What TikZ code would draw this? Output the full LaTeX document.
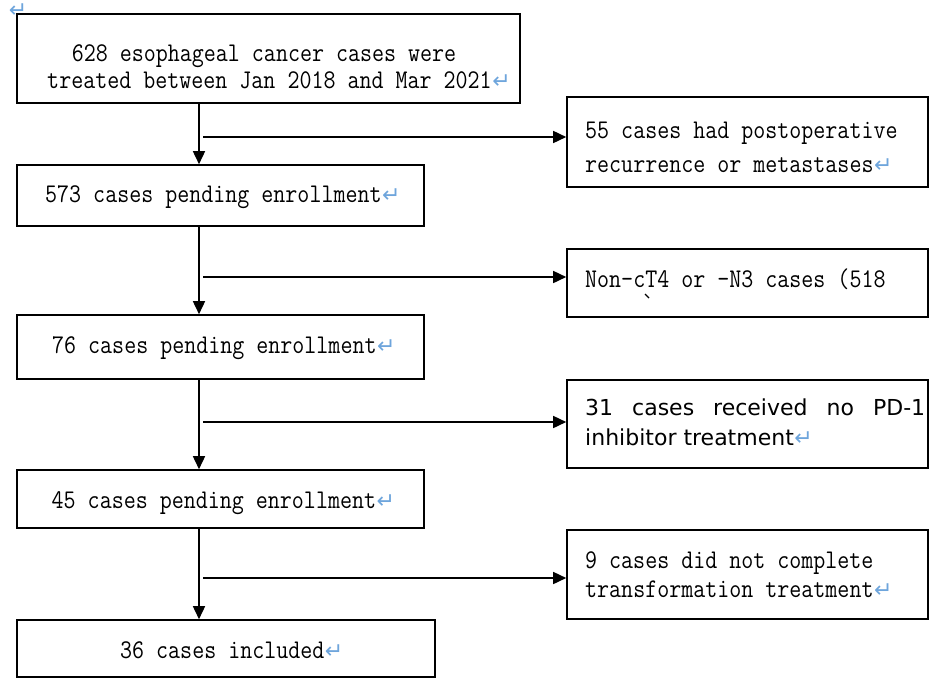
\documentclass[tikz,border=0pt]{standalone}
\usepackage{fontspec}
\usepackage{graphicx}
\newfontfamily\djv{DejaVu Sans}
\usetikzlibrary{arrows.meta}
\definecolor{retblue}{RGB}{110,165,220}
\newcommand\M[1]{\scalebox{0.864}[1]{#1}}
\newcommand\ret{\rlap{\hspace{0.5pt}{\djv\fontsize{22}{22}\selectfont\color{retblue}↵}}}
\begin{document}
\begin{tikzpicture}[x=1pt,y=-1pt,
  box/.style={draw, line width=1.6pt, rectangle, inner sep=0pt},
  mono/.style={font=\fontsize{27}{30}\selectfont\ttfamily, inner sep=0pt},
  sans/.style={font=\djv\fontsize{22}{26}\selectfont, inner sep=0pt},
  arr/.style={line width=1.6pt, -{Triangle[length=13pt,width=12pt]}},
  retmark/.style={font=\djv\fontsize{22}{22}\selectfont, text=retblue, inner sep=0pt}]
\useasboundingbox (0,0) rectangle (930,678);
\fill[white] (0,0) rectangle (930,678);
% boxes
\node[box, minimum width=503pt, minimum height=89pt] (b1) at (268.5,58.5) {};
\node[box, minimum width=407pt, minimum height=61pt] (b2) at (220.5,195.5) {};
\node[box, minimum width=407pt, minimum height=64pt] (b3) at (220.5,347) {};
\node[box, minimum width=407pt, minimum height=58pt] (b4) at (220.5,499) {};
\node[box, minimum width=418pt, minimum height=57pt] (b5) at (226,648.5) {};
\node[box, minimum width=361pt, minimum height=90pt] (r1) at (747.5,142) {};
\node[box, minimum width=361pt, minimum height=68pt] (r2) at (747.5,283) {};
\node[box, minimum width=361pt, minimum height=88pt] (r3) at (747.5,424) {};
\node[box, minimum width=361pt, minimum height=89pt] (r4) at (747.5,574.5) {};
% texts
\node[retmark] (rm0) at (18,11) {↵};
\node[mono, anchor=base] (t1a) at (264,61) {\M{628 esophageal cancer cases were}};
\node[mono, anchor=base] (t1b) at (269.5,88) {\M{treated between Jan 2018 and Mar 2021}\ret};
\node[mono, anchor=base west] (tr1a) at (585,138) {\M{55 cases had postoperative}};
\node[mono, anchor=base west] (tr1b) at (585,172) {\M{recurrence or metastases}\ret};
\node[mono, anchor=base west] (t2) at (45,202) {\M{573 cases pending enrollment}\ret};
\node[mono, anchor=base west] (tr2) at (585,287) {\M{Non-cT4 or -N3 cases (518}};
\draw[line width=1.2pt] (645,294) -- (649,298);
\node[mono, anchor=base west] (t3) at (52,353) {\M{76 cases pending enrollment}\ret};
\node[sans, anchor=base west] (tr3a) at (585,415) {\hbox to 340pt{31\hfill cases\hfill received\hfill no\hfill PD-1}};
\node[sans, anchor=base west] (tr3b) at (585,445) {inhibitor treatment\ret};
\node[mono, anchor=base west] (t4) at (51.5,508) {\M{45 cases pending enrollment}\ret};
\node[mono, anchor=base west] (tr4a) at (585,568) {\M{9 cases did not complete}};
\node[mono, anchor=base west] (tr4b) at (585,597) {\M{transformation treatment}\ret};
\node[mono, anchor=base west] (t5) at (120,658) {\M{36 cases included}\ret};
% connectors
\coordinate (vx) at (199,0);
\draw[arr] (b1.south -| vx) -- (b2.north -| vx);
\draw[arr] (b2.south -| vx) -- (b3.north -| vx);
\draw[arr] (b3.south -| vx) -- (b4.north -| vx);
\draw[arr] (b4.south -| vx) -- (b5.north -| vx);
\coordinate (h1) at (203,137);
\coordinate (h2) at (203,277);
\coordinate (h3) at (203,422);
\coordinate (h4) at (203,578);
\draw[arr] (h1) -- (h1 -| r1.west);
\draw[arr] (h2) -- (h2 -| r2.west);
\draw[arr] (h3) -- (h3 -| r3.west);
\draw[arr] (h4) -- (h4 -| r4.west);
\end{tikzpicture}
\end{document}
